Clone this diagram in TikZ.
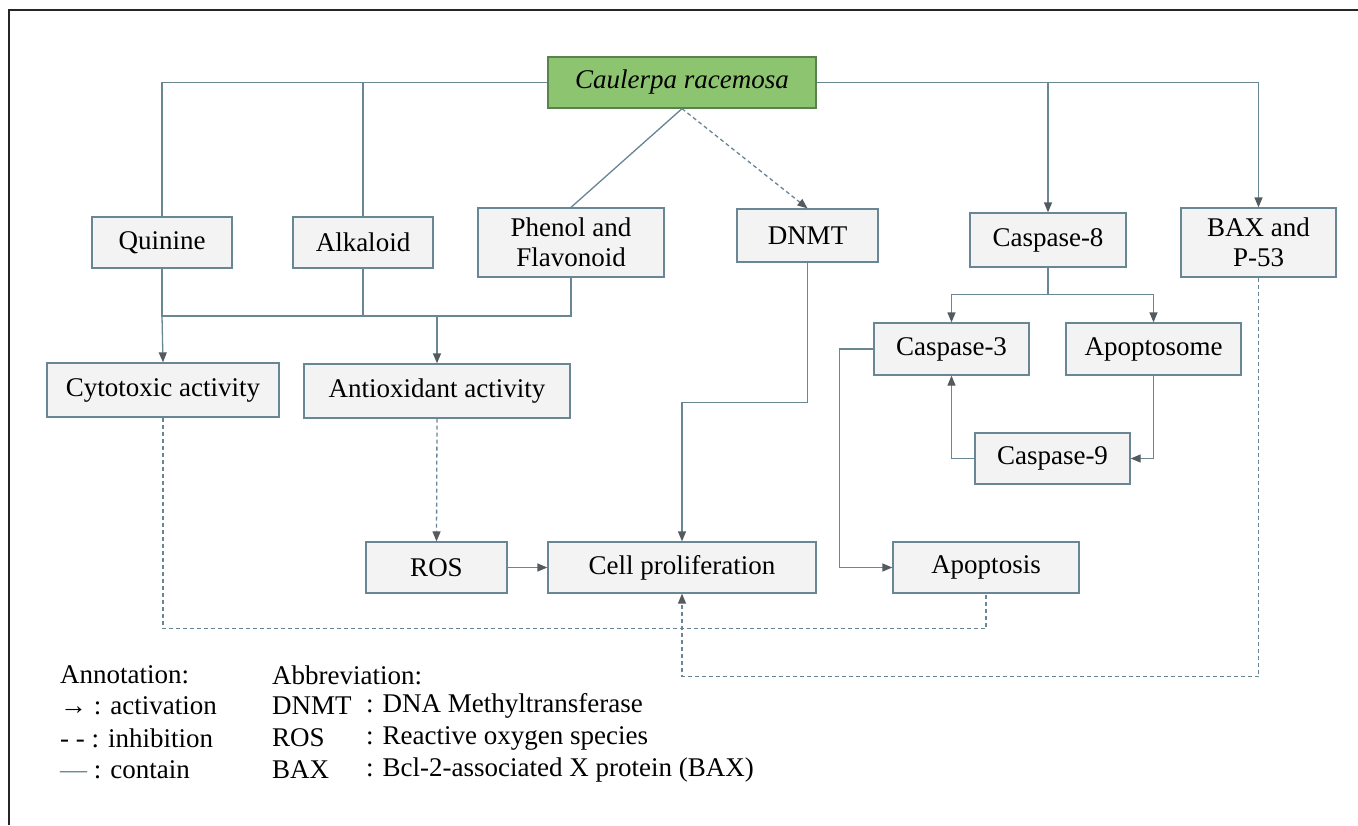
\documentclass[tikz,border=0pt]{standalone}
\usepackage{fontspec}
\setmainfont{Liberation Serif}
\usetikzlibrary{arrows.meta,calc}
\definecolor{linec}{RGB}{104,134,148}
\definecolor{boxfill}{RGB}{243,243,243}
\definecolor{greenfill}{RGB}{141,196,112}
\definecolor{greenline}{RGB}{88,130,78}
\definecolor{tipc}{RGB}{85,90,95}
\tikzset{
  box/.style={draw=linec, fill=boxfill, line width=1.3pt, inner sep=0pt, align=center,
    font=\fontsize{27}{30}\selectfont},
  conn/.style={draw=linec, line width=1.3pt},
  act/.style={conn, -{Triangle[length=10pt,width=8pt,color=tipc]}},
  inh/.style={conn, dash pattern=on 4pt off 3pt},
  leg/.style={anchor=west, inner sep=0pt, font=\fontsize{27}{30}\selectfont},
}
\begin{document}
\begin{tikzpicture}[x=1pt,y=-1pt]
\useasboundingbox (0,0) rectangle (1358,825);
\draw[line width=1.6pt, black!85] (9,825) -- (9,10) -- (1358,10);

\node[box, fill=greenfill, draw=greenline, minimum width=268pt, minimum height=51pt] (car) at (682,82.5) {\itshape Caulerpa racemosa};
\node[box, minimum width=140pt, minimum height=51pt] (qui) at (162,242.5) {Quinine};
\node[box, minimum width=140pt, minimum height=51pt] (alk) at (363,242.5) {Alkaloid};
\node[box, minimum width=186pt, minimum height=69pt] (phe) at (571,242.5) {Phenol and\\Flavonoid};
\node[box, minimum width=141pt, minimum height=53pt] (dnmt) at (807.5,235.5) {DNMT};
\node[box, minimum width=156pt, minimum height=54pt] (c8) at (1048,240) {Caspase-8};
\node[box, minimum width=155pt, minimum height=69pt] (bax) at (1258.5,242.5) {BAX and\\P-53};
\node[box, minimum width=232pt, minimum height=54pt] (cyto) at (163,390) {Cytotoxic activity};
\node[box, minimum width=266pt, minimum height=54pt] (anti) at (437,391) {Antioxidant activity};
\node[box, minimum width=155pt, minimum height=52pt] (c3) at (951.5,349) {Caspase-3};
\node[box, minimum width=175pt, minimum height=52pt] (apo) at (1153.5,349) {Apoptosome};
\node[box, minimum width=155pt, minimum height=51pt] (c9) at (1052.5,458.5) {Caspase-9};
\node[box, minimum width=141pt, minimum height=51pt] (ros) at (436.5,567.5) {ROS};
\node[box, minimum width=268pt, minimum height=51pt] (cell) at (682,567.5) {Cell proliferation};
\node[box, minimum width=186pt, minimum height=51pt] (apt) at (986,567.5) {Apoptosis};

% top connectors
\draw[conn] (car.west) -| (qui.north);
\draw[conn] (car.west) -| (alk.north);
\draw[conn] (car.south) -- (phe.north);
\draw[act, dash pattern=on 4pt off 3pt] (car.south) -- (dnmt.north);
\draw[act] (car.east) -| (c8.north);
\draw[act] (car.east) -| (bax.north);

% contain junction
\coordinate (jq) at (162,316);
\coordinate (jp) at (571,316);
\draw[conn] (qui.south) -- (jq) -- (jp) -- (phe.south);
\draw[conn] (alk.south) -- (alk.south |- jq);
\draw[act] (jq) -- (cyto.north);
\draw[act] (anti.north |- jq) -- (anti.north);

% DNMT to cell proliferation
\draw[act] (dnmt.south) -- ++(0,140) -| (cell.north);

% caspase cascade
\draw[conn] (c8.south) -- ++(0,27) coordinate (c8j);
\draw[act] (c8j) -| (c3.north);
\draw[act] (c8j) -| (apo.north);
\draw[act] (c3.west) -- ++(-34,0) |- (apt.west);
\draw[act] (apo.south) |- (c9.east);
\draw[act] (c9.west) -| (c3.south);

% ROS
\draw[act] (ros.east) -- (cell.west);
\draw[act, dash pattern=on 4pt off 3pt] (anti.south) -- (ros.north);

% inhibition loops
\draw[inh] (cyto.south) -- ++(0,211) -| (apt.south);
\draw[act, dash pattern=on 4pt off 3pt] (bax.south) -- ++(0,399) -| (cell.south);

% legend
\node[leg] (an) at (60,675) {Annotation:};
\node[leg] (a1) at (60,706) {→ : activation};
\node[leg] (a2) at (60,738) {- - : inhibition};
\node[leg] (a3) at (60,770) {\textcolor{linec}{—} : contain};
\node[leg] (ab) at (272,675) {Abbreviation:};
\node[leg] (b1) at (272,706) {DNMT};
\node[leg] (b2) at (272,738) {ROS};
\node[leg] (b3) at (272,770) {BAX};
\node[leg] (d1) at (366,706) {: DNA Methyltransferase};
\node[leg] (d2) at (366,738) {: Reactive oxygen species};
\node[leg] (d3) at (366,770) {: Bcl-2-associated X protein (BAX)};
\end{tikzpicture}
\end{document}
